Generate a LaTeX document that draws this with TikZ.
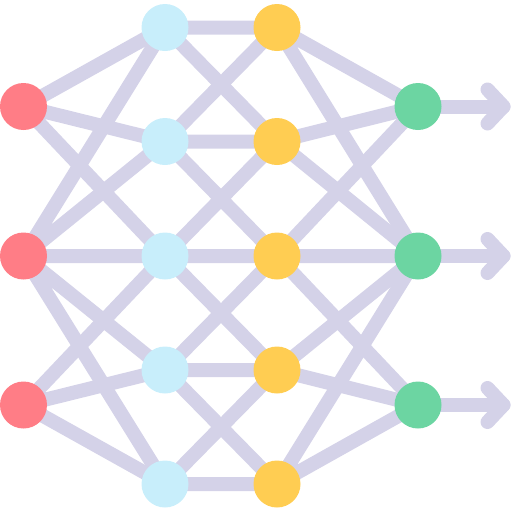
\documentclass[tikz,border=0pt]{standalone}
\usetikzlibrary{calc, backgrounds}

\definecolor{edgegray}{HTML}{D4D2E8}
\definecolor{inred}{HTML}{FF7D86}
\definecolor{hidblue}{HTML}{C8EEFB}
\definecolor{hidyellow}{HTML}{FFCD52}
\definecolor{outgreen}{HTML}{6CD5A2}

\begin{document}
\begin{tikzpicture}[
  x=1pt, y=-1pt,
  unit/.style    = {circle, minimum size=47pt, inner sep=0pt},
  input/.style   = {unit, fill=inred},
  hidA/.style    = {unit, fill=hidblue},
  hidB/.style    = {unit, fill=hidyellow},
  output/.style  = {unit, fill=outgreen},
  edge/.style    = {draw=edgegray, line width=14pt,
                    line cap=round, line join=round},
]
\useasboundingbox (0,0) rectangle (512,512);

% =============================================================
% Units (4 layers)
% =============================================================
% input layer @ x=23.5, hidden layers @ 165 and 277, output @ 418
\node[input] (r1) at (23.5, 106.5) {};
\node[input] (r2) at (23.5, 256.0) {};
\node[input] (r3) at (23.5, 405.0) {};

\node[hidA] (b1) at (165, 27.5) {};
\node[hidA] (b2) at (165, 141.5) {};
\node[hidA] (b3) at (165, 256.0) {};
\node[hidA] (b4) at (165, 370.0) {};
\node[hidA] (b5) at (165, 484.0) {};

\node[hidB] (y1) at (277, 27.5) {};
\node[hidB] (y2) at (277, 141.5) {};
\node[hidB] (y3) at (277, 256.0) {};
\node[hidB] (y4) at (277, 370.0) {};
\node[hidB] (y5) at (277, 484.0) {};

\node[output] (g1) at (418, 106.5) {};
\node[output] (g2) at (418, 256.0) {};
\node[output] (g3) at (418, 405.0) {};

% free ends of the three outgoing arrows
\coordinate (o1) at (503.5, 106.5);
\coordinate (o2) at (503.5, 256.0);
\coordinate (o3) at (503.5, 405.0);

% =============================================================
% Connections (behind the units)
% =============================================================
\begin{scope}[on background layer]
% --- input -> first hidden ---
\draw[edge] (r1.center) -- (b1.center) (r1.center) -- (b2.center)
            (r1.center) -- (b3.center);
\draw[edge] (r2.center) -- (b1.center) (r2.center) -- (b2.center)
            (r2.center) -- (b3.center) (r2.center) -- (b4.center)
            (r2.center) -- (b5.center);
\draw[edge] (r3.center) -- (b3.center) (r3.center) -- (b4.center)
            (r3.center) -- (b5.center);

% --- first hidden -> second hidden ---
\draw[edge] (b1.center) -- (y1.center) (b1.center) -- (y2.center);
\draw[edge] (b2.center) -- (y1.center) (b2.center) -- (y2.center)
            (b2.center) -- (y3.center);
\draw[edge] (b3.center) -- (y2.center) (b3.center) -- (y3.center)
            (b3.center) -- (y4.center);
\draw[edge] (b4.center) -- (y3.center) (b4.center) -- (y4.center)
            (b4.center) -- (y5.center);
\draw[edge] (b5.center) -- (y4.center) (b5.center) -- (y5.center);

% --- second hidden -> output ---
\draw[edge] (y1.center) -- (g1.center) (y1.center) -- (g2.center);
\draw[edge] (y2.center) -- (g1.center) (y2.center) -- (g2.center);
\draw[edge] (y3.center) -- (g1.center) (y3.center) -- (g2.center)
            (y3.center) -- (g3.center);
\draw[edge] (y4.center) -- (g2.center) (y4.center) -- (g3.center);
\draw[edge] (y5.center) -- (g2.center) (y5.center) -- (g3.center);

% --- outgoing arrows ---
\draw[edge] (g1.center) -- (o1);
\draw[edge] ($(o1)+(-16,-17)$) -- (o1) -- ($(o1)+(-16,17)$);
\draw[edge] (g2.center) -- (o2);
\draw[edge] ($(o2)+(-16,-17)$) -- (o2) -- ($(o2)+(-16,17)$);
\draw[edge] (g3.center) -- (o3);
\draw[edge] ($(o3)+(-16,-17)$) -- (o3) -- ($(o3)+(-16,17)$);
\end{scope}

\end{tikzpicture}
\end{document}
